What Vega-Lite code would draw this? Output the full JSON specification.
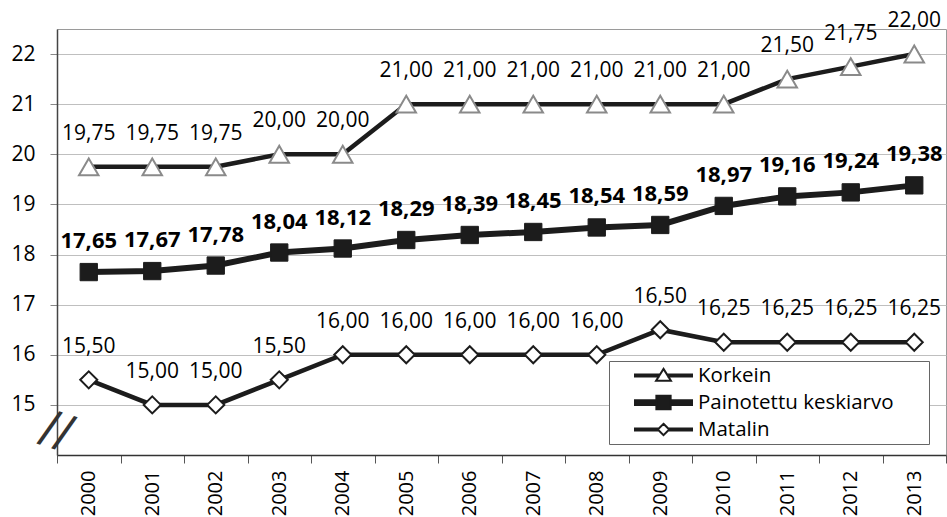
{
  "$schema": "https://vega.github.io/schema/vega-lite/v6.json",
  "width": 889,
  "height": 426,
  "autosize": {"type": "none"},
  "padding": {"left": 57, "top": 29, "right": 1, "bottom": 62},
  "background": "white",
  "config": {
    "locale": {"number": {"decimal": ",", "thousands": " ", "grouping": [3], "currency": ["", ""]}},
    "font": "Open Sans",
    "view": {"stroke": "#9a9a9a", "strokeWidth": 1},
    "legend": {
      "orient": "none",
      "legendX": 552,
      "legendY": 332,
      "padding": 4,
      "strokeColor": "#666",
      "fillColor": "white",
      "symbolSize": 361,
      "symbolStrokeColor": "#1c1c1c",
      "symbolStrokeWidth": 2,
      "labelFontSize": 20.5,
      "labelColor": "black",
      "labelFont": "Open Sans",
      "labelLimit": 400,
      "rowPadding": 5,
      "symbolOffset": 40,
      "labelOffset": 24,
      "titleOrient": "right",
      "titlePadding": 32,
      "titleFontSize": 10
    }
  },
  "datasets": {
    "d": [
      {"year": "2000", "series": "Korkein", "value": 19.75},
      {"year": "2001", "series": "Korkein", "value": 19.75},
      {"year": "2002", "series": "Korkein", "value": 19.75},
      {"year": "2003", "series": "Korkein", "value": 20.00},
      {"year": "2004", "series": "Korkein", "value": 20.00},
      {"year": "2005", "series": "Korkein", "value": 21.00},
      {"year": "2006", "series": "Korkein", "value": 21.00},
      {"year": "2007", "series": "Korkein", "value": 21.00},
      {"year": "2008", "series": "Korkein", "value": 21.00},
      {"year": "2009", "series": "Korkein", "value": 21.00},
      {"year": "2010", "series": "Korkein", "value": 21.00},
      {"year": "2011", "series": "Korkein", "value": 21.50},
      {"year": "2012", "series": "Korkein", "value": 21.75},
      {"year": "2013", "series": "Korkein", "value": 22.00},
      {"year": "2000", "series": "Painotettu keskiarvo", "value": 17.65},
      {"year": "2001", "series": "Painotettu keskiarvo", "value": 17.67},
      {"year": "2002", "series": "Painotettu keskiarvo", "value": 17.78},
      {"year": "2003", "series": "Painotettu keskiarvo", "value": 18.04},
      {"year": "2004", "series": "Painotettu keskiarvo", "value": 18.12},
      {"year": "2005", "series": "Painotettu keskiarvo", "value": 18.29},
      {"year": "2006", "series": "Painotettu keskiarvo", "value": 18.39},
      {"year": "2007", "series": "Painotettu keskiarvo", "value": 18.45},
      {"year": "2008", "series": "Painotettu keskiarvo", "value": 18.54},
      {"year": "2009", "series": "Painotettu keskiarvo", "value": 18.59},
      {"year": "2010", "series": "Painotettu keskiarvo", "value": 18.97},
      {"year": "2011", "series": "Painotettu keskiarvo", "value": 19.16},
      {"year": "2012", "series": "Painotettu keskiarvo", "value": 19.24},
      {"year": "2013", "series": "Painotettu keskiarvo", "value": 19.38},
      {"year": "2000", "series": "Matalin", "value": 15.50},
      {"year": "2001", "series": "Matalin", "value": 15.00},
      {"year": "2002", "series": "Matalin", "value": 15.00},
      {"year": "2003", "series": "Matalin", "value": 15.50},
      {"year": "2004", "series": "Matalin", "value": 16.00},
      {"year": "2005", "series": "Matalin", "value": 16.00},
      {"year": "2006", "series": "Matalin", "value": 16.00},
      {"year": "2007", "series": "Matalin", "value": 16.00},
      {"year": "2008", "series": "Matalin", "value": 16.00},
      {"year": "2009", "series": "Matalin", "value": 16.50},
      {"year": "2010", "series": "Matalin", "value": 16.25},
      {"year": "2011", "series": "Matalin", "value": 16.25},
      {"year": "2012", "series": "Matalin", "value": 16.25},
      {"year": "2013", "series": "Matalin", "value": 16.25}
    ]
  },
  "data": {"name": "d"},
  "encoding": {
    "x": {
      "field": "year",
      "type": "ordinal",
      "scale": {"paddingInner": 0, "paddingOuter": 0},
      "axis": {
        "title": null,
        "labelAngle": 270,
        "labelAlign": "right",
        "labelBaseline": "middle",
        "labelFontSize": 20,
        "labelColor": "black",
        "labelPadding": 7,
        "tickBand": "extent",
        "tickSize": 8,
        "tickColor": "#555",
        "domainColor": "#333",
        "domainWidth": 1.5,
        "grid": false
      }
    },
    "y": {
      "field": "value",
      "type": "quantitative",
      "scale": {"domain": [14, 22.5], "nice": false, "zero": false},
      "axis": {
        "title": null,
        "values": [15, 16, 17, 18, 19, 20, 21, 22],
        "grid": true,
        "gridColor": "#bfbfbf",
        "gridWidth": 1,
        "tickSize": 7,
        "tickColor": "#888",
        "labelFontSize": 21,
        "labelColor": "black",
        "labelPadding": 15,
        "domainColor": "#444",
        "domainWidth": 1.5
      }
    }
  },
  "layer": [
    {
      "mark": {"type": "line", "color": "#1c1c1c"},
      "encoding": {
        "detail": {"field": "series", "type": "nominal"},
        "strokeWidth": {
          "condition": {"test": "datum.series === 'Painotettu keskiarvo'", "value": 6},
          "value": 4.5
        }
      }
    },
    {
      "transform": [{"filter": "datum.series === 'Korkein'"}],
      "mark": {"type": "point", "shape": "triangle-up", "size": 380, "filled": true, "fill": "white", "stroke": "#8a8a8a", "strokeWidth": 2, "opacity": 1}
    },
    {
      "transform": [{"filter": "datum.series === 'Painotettu keskiarvo'"}],
      "mark": {"type": "point", "shape": "square", "size": 300, "filled": true, "fill": "#1c1c1c", "stroke": "#1c1c1c", "strokeWidth": 1, "opacity": 1}
    },
    {
      "transform": [{"filter": "datum.series === 'Matalin'"}],
      "mark": {"type": "point", "shape": "diamond", "size": 290, "filled": true, "fill": "white", "stroke": "#1c1c1c", "strokeWidth": 2, "opacity": 1}
    },
    {
      "transform": [{"filter": "datum.series !== 'Painotettu keskiarvo'"}],
      "mark": {"type": "text", "fontSize": 21, "dy": -33, "color": "black"},
      "encoding": {"text": {"field": "value", "type": "quantitative", "format": ".2f"}}
    },
    {
      "transform": [{"filter": "datum.series === 'Painotettu keskiarvo'"}],
      "mark": {"type": "text", "fontSize": 22, "fontWeight": "bold", "dy": -31, "color": "black"},
      "encoding": {"text": {"field": "value", "type": "quantitative", "format": ".2f"}}
    },
    {
      "transform": [{"filter": "false"}],
      "mark": {"type": "point", "filled": true, "strokeWidth": 2, "opacity": 1},
      "encoding": {
        "shape": {
          "field": "series",
          "type": "nominal",
          "scale": {
            "domain": ["Korkein", "Painotettu keskiarvo", "Matalin"],
            "range": [
              "M-3,-0.1H-0.5V0.1H-3Z M0.5,-0.1H3V0.1H0.5Z M0,-0.7L0.78,0.55H-0.78Z",
              "M-3,-0.25H-0.75V0.25H-3Z M0.75,-0.25H3V0.25H0.75Z M-0.75,-0.7H0.75V0.7H-0.75Z",
              "M-3,-0.1H-0.6V0.1H-3Z M0.6,-0.1H3V0.1H0.6Z M0,-0.6L0.6,0L0,0.6L-0.6,0Z"
            ]
          },
          "legend": {"title": " "}
        },
        "fill": {
          "field": "series",
          "type": "nominal",
          "scale": {
            "domain": ["Korkein", "Painotettu keskiarvo", "Matalin"],
            "range": ["white", "#1c1c1c", "white"]
          },
          "legend": {"title": " "}
        },
        "stroke": {
          "field": "series",
          "type": "nominal",
          "scale": {
            "domain": ["Korkein", "Painotettu keskiarvo", "Matalin"],
            "range": ["#1c1c1c", "#1c1c1c", "#1c1c1c"]
          },
          "legend": {"title": " "}
        }
      }
    },
    {
      "data": {"values": [{"year": "2000", "value": 14.48, "sign": "//"}]},
      "mark": {"type": "text", "fontSize": 46, "angle": 18, "xOffset": -32, "color": "#333", "font": "DejaVu Sans", "fontWeight": "normal", "align": "center", "baseline": "middle"},
      "encoding": {
        "text": {"field": "sign", "type": "nominal"}
      }
    }
  ]
}
